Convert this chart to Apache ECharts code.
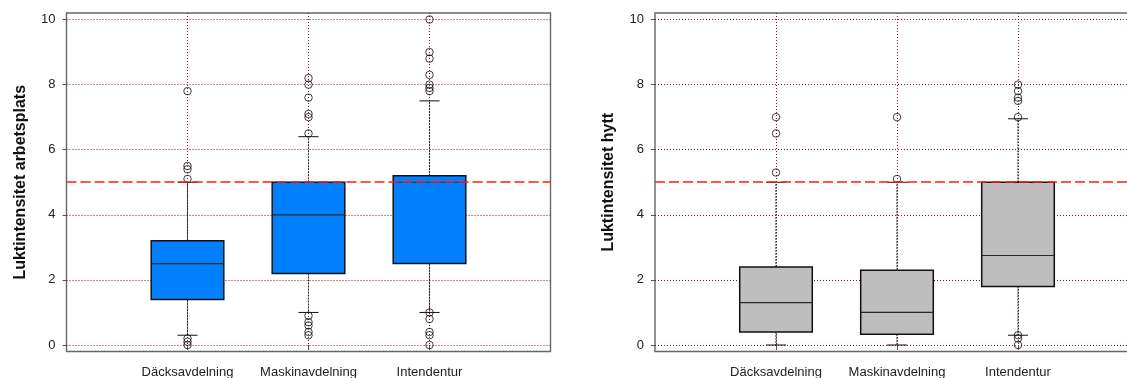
<!DOCTYPE html>
<html>
<head>
<meta charset="utf-8">
<title>Luktintensitet</title>
<script src="https://cdn.jsdelivr.net/npm/echarts@6/dist/echarts.min.js"></script>
<style>
  html, body { margin: 0; padding: 0; background: #fff; }
  #chart { width: 1127px; height: 378px; }
</style>
</head>
<body>
<div id="chart"></div>
<script>
// Departments on the x axis
const categories = ['Däcksavdelning', 'Maskinavdelning', 'Intendentur'];
// y-axis tick labels
const yTicks = [0, 2, 4, 6, 8, 10];
// reference level drawn as a dashed red line
const refLevel = 5;

// Luktintensitet arbetsplats: [lower whisker, Q1, median, Q3, upper whisker]
const workBoxes = [
  [0.3, 1.4, 2.5, 3.2, 5.0],
  [1.0, 2.2, 4.0, 5.0, 6.4],
  [1.0, 2.5, 5.0, 5.2, 7.5]
];
const workOutliers = [
  [7.8, 5.5, 5.4, 5.1, 0.2, 0.1, 0.0],
  [8.2, 8.0, 7.6, 7.1, 7.0, 6.5, 0.9, 0.7, 0.6, 0.4, 0.3],
  [10.0, 9.0, 8.8, 8.3, 8.0, 7.9, 7.8, 1.0, 0.8, 0.4, 0.3, 0.0]
];

// Luktintensitet hytt
const cabinBoxes = [
  [0.0, 0.4, 1.3, 2.4, 5.0],
  [0.0, 0.33, 1.0, 2.3, 5.0],
  [0.3, 1.8, 2.75, 5.0, 6.95]
];
const cabinOutliers = [
  [7.0, 6.5, 5.3],
  [7.0, 5.1],
  [8.0, 7.8, 7.6, 7.5, 7.0, 0.3, 0.2, 0.0]
];

const FONT = "'Liberation Sans', Arial, sans-serif";
const axisData = [''].concat(categories, ['']);

function boxSeriesData(boxes) {
  return boxes.map((b, i) => [i + 1].concat(b));
}
function outlierData(outs) {
  const res = [];
  outs.forEach((arr, i) => arr.forEach(v => res.push([i + 1, v])));
  return res;
}

// Box, median, dashed whiskers and short whisker caps
function makeBoxRenderer(fill) {
  return function (params, api) {
    const x = api.value(0);
    const lo = api.coord([x, api.value(1)]);
    const q1 = api.coord([x, api.value(2)]);
    const md = api.coord([x, api.value(3)]);
    const q3 = api.coord([x, api.value(4)]);
    const hi = api.coord([x, api.value(5)]);
    const band = api.size([1, 0])[0];
    const hw = band * 0.3;
    const cw = band * 0.083;
    const cx = lo[0];
    const whisker = { stroke: '#2a2a2a', lineWidth: 1.1, lineDash: [2, 1] };
    const cap = { stroke: '#111', lineWidth: 1 };
    return {
      type: 'group',
      children: [
        { type: 'line', shape: { x1: cx, y1: q3[1], x2: cx, y2: hi[1] }, style: whisker },
        { type: 'line', shape: { x1: cx, y1: q1[1], x2: cx, y2: lo[1] }, style: whisker },
        { type: 'line', shape: { x1: cx - cw, y1: hi[1], x2: cx + cw, y2: hi[1] }, style: cap },
        { type: 'line', shape: { x1: cx - cw, y1: lo[1], x2: cx + cw, y2: lo[1] }, style: cap },
        { type: 'rect', shape: { x: cx - hw, y: q3[1], width: 2 * hw, height: q1[1] - q3[1] },
          style: { fill: fill, stroke: '#111', lineWidth: 1.5 } },
        { type: 'line', shape: { x1: cx - hw, y1: md[1], x2: cx + hw, y2: md[1] },
          style: { stroke: '#2a2a2a', lineWidth: 1.2 } }
      ]
    };
  };
}

const gridLine = { show: true, lineStyle: { color: '#8a1030', type: [1, 2], width: 1 } };

function xAxisFor(gridIndex) {
  return {
    type: 'category', gridIndex: gridIndex, data: axisData, boundaryGap: false,
    axisLine: { show: false },
    axisTick: { show: true, length: 5, inside: false, interval: (i, v) => v !== '',
                lineStyle: { color: '#555' } },
    axisLabel: { interval: 0, hideOverlap: false, color: '#222', fontSize: 13, fontFamily: FONT, margin: 14 },
    splitLine: Object.assign({ interval: (i, v) => v !== '' }, gridLine)
  };
}
function yAxisFor(gridIndex, title) {
  return {
    type: 'value', gridIndex: gridIndex, min: -0.2, max: 10.2,
    name: title, nameLocation: 'middle', nameGap: 38, nameRotate: 90,
    nameTextStyle: { fontSize: 16, fontWeight: 'bold', color: '#111', fontFamily: FONT },
    axisLine: { show: false },
    axisTick: { show: true, length: 4, customValues: yTicks, lineStyle: { color: '#555' } },
    axisLabel: { customValues: yTicks, color: '#222', fontSize: 13, fontFamily: FONT, margin: 11 },
    splitLine: gridLine
  };
}

function panelSeries(idx, boxes, outs, fill) {
  return [
    {
      type: 'custom', xAxisIndex: idx, yAxisIndex: idx,
      data: boxSeriesData(boxes),
      encode: { x: 0, y: [1, 2, 3, 4, 5] },
      renderItem: makeBoxRenderer(fill), z: 3, silent: true
    },
    {
      type: 'scatter', xAxisIndex: idx, yAxisIndex: idx,
      data: outlierData(outs), symbol: 'circle', symbolSize: 7.5,
      itemStyle: { color: 'rgba(0,0,0,0)', borderColor: '#111', borderWidth: 1 },
      z: 4, silent: true,
      markLine: {
        silent: true, symbol: ['none', 'none'], label: { show: false },
        lineStyle: { color: '#ff1a1a', type: [10, 4], width: 1.6 },
        data: [{ yAxis: refLevel }], z: 5
      }
    }
  ];
}

const gridBase = { top: 13, width: 484, bottom: 26.5, show: true, borderColor: '#666', borderWidth: 1.4,
                   containLabel: false, outerBoundsMode: 'none' };

const chart = echarts.init(document.getElementById('chart'), null, { renderer: 'canvas' });
chart.setOption({
  animation: false,
  backgroundColor: '#fff',
  grid: [
    Object.assign({ left: 66.5 }, gridBase),
    Object.assign({ left: 655 }, gridBase)
  ],
  xAxis: [xAxisFor(0), xAxisFor(1)],
  yAxis: [yAxisFor(0, 'Luktintensitet arbetsplats'), yAxisFor(1, 'Luktintensitet hytt')],
  series: []
    .concat(panelSeries(0, workBoxes, workOutliers, '#007fff'))
    .concat(panelSeries(1, cabinBoxes, cabinOutliers, '#bebebe'))
});
</script>
</body>
</html>
